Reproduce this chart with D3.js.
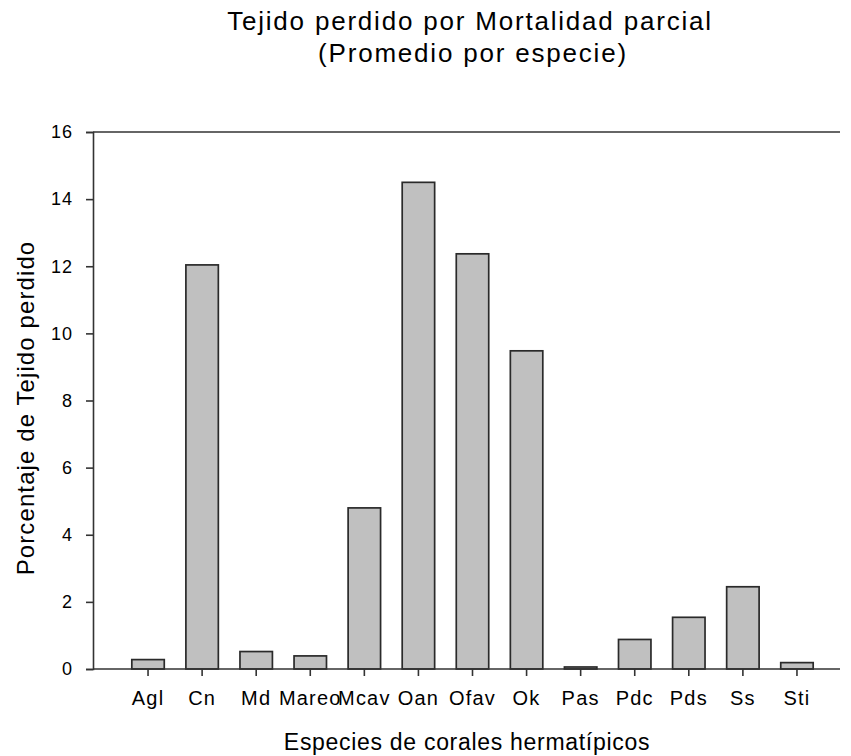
<!DOCTYPE html>
<html><head><meta charset="utf-8">
<script src="https://cdn.jsdelivr.net/npm/d3@7"></script>
<style>body{margin:0;background:#fff}svg{display:block}text{font-family:"Liberation Sans",Arial,sans-serif;fill:#000}</style>
</head><body>
<script>
const categories = ["Agl","Cn","Md","Mareo","Mcav","Oan","Ofav","Ok","Pas","Pdc","Pds","Ss","Sti"];
const values = [0.28,12.04,0.52,0.39,4.80,14.50,12.37,9.48,0.06,0.88,1.54,2.45,0.19];
const yTicks = [0,2,4,6,8,10,12,14,16];
const title1 = "Tejido perdido por Mortalidad parcial";
const title2 = "(Promedio por especie)";
const xTitle = "Especies de corales hermatípicos";
const yTitle = "Porcentaje de Tejido perdido";

const W = 851, H = 756;
const svg = d3.select("body").append("svg").attr("width", W).attr("height", H);
const pLeft = 93, pRight = 840, pTop = 132, pBottom = 669;

const y = d3.scaleLinear().domain([0,16]).range([pBottom, pTop]);
const x = d3.scaleBand().domain(categories).range([121, 824]).paddingInner(0.4).paddingOuter(0.2);

svg.append("g").selectAll("rect").data(values).join("rect")
  .attr("x", (d,i) => x(categories[i]))
  .attr("y", d => y(d))
  .attr("width", x.bandwidth())
  .attr("height", d => pBottom - y(d))
  .attr("fill", "#c0c0c0").attr("stroke", "#2a2a2a").attr("stroke-width", 1.7);

svg.append("line").attr("x1", pLeft).attr("x2", pRight).attr("y1", pTop).attr("y2", pTop).attr("stroke","#333").attr("stroke-width",1.6);
svg.append("line").attr("x1", pLeft).attr("x2", pRight).attr("y1", pBottom).attr("y2", pBottom).attr("stroke","#333").attr("stroke-width",1.6);

const yAxis = svg.append("g").attr("transform", `translate(${pLeft},0)`)
  .call(d3.axisLeft(y).tickValues(yTicks).tickSize(7).tickPadding(13).tickFormat(d3.format("d")));
yAxis.select(".domain").attr("stroke","#333").attr("stroke-width",1.6);
yAxis.selectAll(".tick line").attr("stroke","#333").attr("stroke-width",1.6);
yAxis.selectAll("text").attr("font-size", 18).style("font-family","Liberation Sans, Arial, sans-serif").style("letter-spacing","1px");

const xAxis = svg.append("g").attr("transform", `translate(0,${pBottom})`)
  .call(d3.axisBottom(x).tickSize(7).tickPadding(15));
xAxis.select(".domain").remove();
xAxis.selectAll(".tick line").attr("stroke","#333").attr("stroke-width",1.6);
xAxis.selectAll("text").attr("font-size", 20).style("font-family","Liberation Sans, Arial, sans-serif").style("letter-spacing","1.2px");

svg.append("text").attr("x", 470).attr("y", 30).attr("text-anchor","middle").attr("font-size", 26).style("letter-spacing","1.8px").text(title1);
svg.append("text").attr("x", 473).attr("y", 62).attr("text-anchor","middle").attr("font-size", 26).style("letter-spacing","1.8px").text(title2);
svg.append("text").attr("x", 467).attr("y", 750).attr("text-anchor","middle").attr("font-size", 23).style("letter-spacing","0.7px").text(xTitle);
svg.append("text").attr("transform", "translate(34,408) rotate(-90)").attr("text-anchor","middle").attr("font-size", 24).style("letter-spacing","1.1px").text(yTitle);
</script>
</body></html>
